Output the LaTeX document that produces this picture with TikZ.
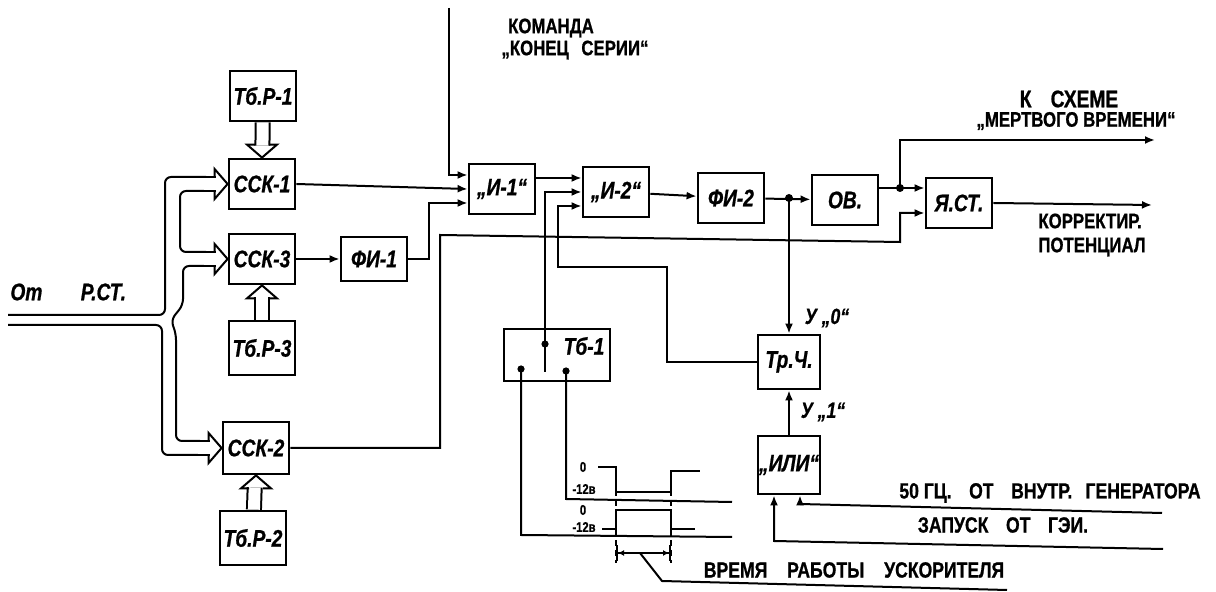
\documentclass[tikz,border=0pt]{standalone}
\usepackage{fontspec}
\setmainfont{Liberation Sans}[FakeStretch=0.8,
  BoldFont={Liberation Sans Bold},BoldItalicFont={Liberation Sans Bold Italic},
  BoldFeatures={FakeBold=0.8},BoldItalicFeatures={FakeBold=0.8}]
\usetikzlibrary{arrows.meta,calc,positioning}

\tikzset{
  blk/.style={draw,line width=1.4pt,inner sep=0pt,minimum width=33pt,minimum height=25pt,
    font=\fontsize{12}{12}\selectfont\bfseries\itshape},
  wire/.style={line width=1pt},
  sig/.style={wire,-{Latex[length=5pt,width=4pt]}},
  bus/.style={double,double distance=6pt,line width=1pt,shorten >=6pt},
  hh/.pic={\draw[line width=1pt,line join=miter] (-13,-7) -- (-13,-15) -- (0,0) -- (-13,15) -- (-13,7);},
  jdot/.style={circle,fill,inner sep=0pt,minimum size=4pt},
  lbl/.style={font=\fontsize{10.5}{12}\selectfont\bfseries,inner sep=0pt,align=center},
  tiny/.style={font=\fontsize{7}{7}\selectfont\bfseries,inner sep=0pt},
  ulab/.style={font=\fontsize{11}{11}\selectfont\bfseries\itshape,inner sep=0pt},
}

\begin{document}
\begin{tikzpicture}[x=0.5pt,y=-0.5pt]
  \useasboundingbox (0,0) rectangle (1216,592);
  % blocks
  \node[blk] (TbR1) at (263,96) {Тб.Р-1};
  \node[blk] (SSK1) at (262,184) {ССК-1};
  \node[blk] (SSK3) at (262,259) {ССК-3};
  \node[blk,minimum height=22pt] (FI1) at (374,259) {ФИ-1};
  \node[blk,minimum height=27pt] (TbR3) at (262,348) {Тб.Р-3};
  \node[blk,minimum height=26pt] (SSK2) at (256,448) {ССК-2};
  \node[blk,minimum height=27pt] (TbR2) at (253,538) {Тб.Р-2};
  \node[blk] (I1) at (502,189) {„И-1“};
  \node[blk] (I2) at (616,192) {„И-2“};
  \node[blk] (FI2) at (731,198) {ФИ-2};
  \node[blk] (OB) at (845,200) {ОВ.};
  \node[blk] (YaST) at (959,203) {Я.СТ.};
  \node[blk,minimum width=31pt,minimum height=27pt] (TrCh) at (789,362) {Тр.Ч.};
  \node[blk,minimum width=31pt,minimum height=29pt] (ILI) at (789,465) {„ИЛИ“};
  \node[blk,minimum width=53pt,minimum height=26pt] (Tb1) at (557,355) {};
  \node[blk,draw=none] (Tb1lab) at (584,346) {Тб-1};

  % input bus
  \draw[wire,rounded corners=3pt] (8,315) -- (165,315) -- (165,177) -- (206,177);
  \draw[wire,rounded corners=3pt] (206,191) -- (180,191) -- (180,252) -- (206,252);
  \draw[wire,rounded corners=3pt] (206,266) -- (183,266) -- (183,305) -- (171,320) -- (176,334) -- (176,441) -- (200,441);
  \draw[wire,rounded corners=3pt] (8,325) -- (162,325) -- (162,455) -- (200,455);
  \draw[bus] (204,184) -- (SSK1);  \pic at (SSK1.west) {hh};
  \draw[bus] (204,259) -- (SSK3);  \pic at (SSK3.west) {hh};
  \draw[bus] (198,448) -- (SSK2);  \pic at (SSK2.west) {hh};
  \draw[bus] (TbR1) -- (SSK1);     \pic[rotate=-90] at (SSK1.north) {hh};
  \draw[bus] (TbR3) -- (SSK3);     \pic[rotate=90] at (SSK3.south) {hh};
  \draw[bus] (TbR2) -- (SSK2);     \pic[rotate=90] at (SSK2.south) {hh};

  % signal paths
  \coordinate (cmd) at (449,8);
  \coordinate (j1) at (789,198);
  \coordinate (j2) at (900,188);
  \coordinate (kdt) at (1155,140);
  \coordinate (kpot) at (1152,205);
  \coordinate (tbm) at (545,344);
  \coordinate (tbl) at (521,369);
  \coordinate (tbr) at (566,371);
  \draw[sig] (SSK3) -- (FI1);
  \draw[sig] (cmd) |- ($(I1.west)+(0,-14)$);
  \draw[sig] (SSK1.east) -- (I1.west);
  \draw[sig] (FI1.east) -- ++(21,0) |- ($(I1.west)+(0,14)$);
  \draw[sig] ($(I1.east)+(0,-11)$) -- ($(I2.west)+(0,-14)$);
  \draw[sig] (tbm) |- (I2.west);
  \draw[sig] (TrCh.west) -| (667,267) -| (558,206) -- ($(I2.west)+(0,14)$);
  \draw[sig] (I2) -- (FI2);
  \draw[sig] (FI2) -- (OB);
  \draw[sig] (j1) -- (TrCh.north);
  \draw[sig] ($(OB.east)+(0,-12)$) -- ($(YaST.west)+(0,-15)$);
  \draw[sig] (j2) |- (kdt);
  \draw[sig] (YaST.east) -- (kpot);
  \draw[sig] (SSK2.east) -| (440,235) -- (900,242) |- ($(YaST.west)+(0,10)$);
  \draw[sig] (ILI) -- (TrCh);
  \coordinate (gei) at (1163,549);
  \coordinate (gen) at (1162,513);
  \draw[sig] (gei) -- (774,541) -- ($(ILI.south)+(-15,0)$);
  \draw[sig] (gen) -- (800,504) -- ($(ILI.south)+(11,0)$);
  \node[jdot] at (j1) {};
  \node[jdot] at (j2) {};

  % Tb-1 outputs
  \draw[wire] (tbm) -- (545,372);
  \draw[wire] (tbl) -- (521,535) -- (732,537);
  \draw[wire] (tbr) -- (566,499) -- (732,502);
  \foreach \p in {tbm,tbl,tbr} \fill (\p) circle (1.8pt);

  % timing sketch
  \draw[wire] (598,467) -- (616,467) -- (616,492) -- (671,492) -- (671,471) -- (700,471);
  \draw[wire] (602,529) -- (616,529) -- (616,510) -- (671,510) -- (671,529) -- (695,529);
  \draw[wire,dash pattern=on 3pt off 2pt] (616,480) -- (616,563) (671,480) -- (671,563);
  \node[tiny] at (583,467) {0};
  \node[tiny] at (584,489) {-12в};
  \node[tiny] at (583,510) {0};
  \node[tiny] at (584,527) {-12в};
  \draw[wire,{Bar[width=8pt]Latex[length=3pt,width=3pt]}-{Latex[length=3pt,width=3pt]Bar[width=8pt]}] (616,553) -- (671,553);
  \draw[wire] (640,553) -- (662,581) -- (1007,590);

  % labels
  \node[lbl,anchor=west,font=\fontsize{12}{12}\selectfont\bfseries\itshape] at (10,292) {От\hspace{1.6em}Р.СТ.};
  \node[lbl] at (551,28) {КОМАНДА};
  \node[lbl] at (575,50) {„КОНЕЦ\hspace{0.6em}СЕРИИ“};
  \node[lbl,font=\fontsize{12}{12}\selectfont\bfseries] at (1069,99) {К\hspace{0.8em}СХЕМЕ};
  \node[lbl] at (1076,121) {„МЕРТВОГО ВРЕМЕНИ“};
  \node[lbl,anchor=west,align=left] at (1038,235) {КОРРЕКТИР.\\ПОТЕНЦИАЛ};
  \node[ulab] at (827,318) {У „0“};
  \node[ulab] at (823,412) {У „1“};
  \node[lbl,font=\fontsize{11}{12}\selectfont\bfseries] at (1050,493) {50 ГЦ.\hspace{0.8em}ОТ\hspace{0.8em}ВНУТР.\hspace{0.6em}ГЕНЕРАТОРА};
  \node[lbl,font=\fontsize{11}{12}\selectfont\bfseries] at (1003,525) {ЗАПУСК\hspace{0.8em}ОТ\hspace{0.8em}ГЭИ.};
  \node[lbl,font=\fontsize{11}{12}\selectfont\bfseries] at (854,570) {ВРЕМЯ\hspace{0.9em}РАБОТЫ\hspace{0.9em}УСКОРИТЕЛЯ};
\end{tikzpicture}
\end{document}
